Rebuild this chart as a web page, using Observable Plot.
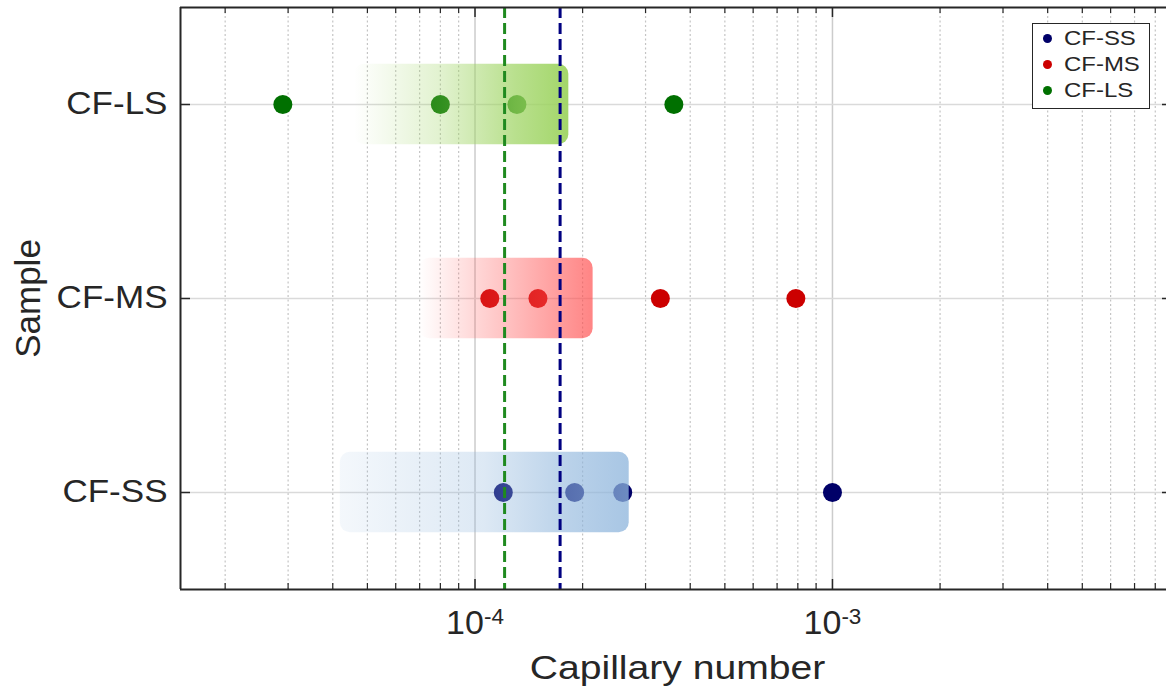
<!DOCTYPE html>
<html>
<head>
<meta charset="utf-8">
<script src="https://cdn.jsdelivr.net/npm/d3@7"></script>
<script src="https://cdn.jsdelivr.net/npm/@observablehq/plot@0.6"></script>
<style>
  body { margin: 0; background: #fff; }
  #wrap { position: relative; width: 1166px; height: 691px; overflow: hidden; font-family: "Liberation Sans", Arial, sans-serif; }
  #legend { position: absolute; left: 1032px; top: 23px; box-sizing: border-box; width: 118px; height: 86px;
            border: 1.5px solid #262626; background: #fff; padding-top: 1px; }
  #legend .row { height: 26px; display: flex; align-items: center; font-size: 21px; color: #262626; }
  #legend .dot { width: 9px; height: 9px; border-radius: 50%; margin-left: 10px; margin-right: 11.5px; flex: none; }
  #legend .lab { display: inline-block; transform: scaleX(1.14); transform-origin: left center; white-space: nowrap; }
</style>
</head>
<body>
<div id="wrap"></div>
<script>
// ---- data ----
const samples = ["CF-SS", "CF-MS", "CF-LS"];
const sampleColors = ["#000068", "#cc0000", "#007000"];
const ssValues = [1.20e-4, 1.90e-4, 2.59e-4, 1.00e-3];
const msValues = [1.10e-4, 1.50e-4, 3.30e-4, 7.90e-4];
const lsValues = [2.90e-5, 8.00e-5, 1.31e-4, 3.60e-4];
const boxLow = [4.2e-5, 7.0e-5, 4.6e-5];
const boxHigh = [2.70e-4, 2.14e-4, 1.83e-4];
const boxColors = ["#8eb5dc", "#ff5050", "#9ed462"];
const boxOpacityStops = [
  [[0, 0.1], [0.5, 0.3], [0.8, 0.62], [1, 0.77]],
  [[0, 0], [1, 0.7]],
  [[0, 0], [0.4, 0.3], [0.75, 0.72], [1, 0.95]]
];
const thresholdValues = [1.21e-4, 1.73e-4];
const thresholdColors = ["#1f8a1f", "#000080"];
const xTickValues = [1e-4, 1e-3];
const xTickLabels = ["10^-4", "10^-3"];
const minorMantissas = [2, 3, 4, 5, 6, 7, 8, 9];
const decadeStarts = [1e-5, 1e-4, 1e-3];
const xDomain = [1.5e-5, 8.6e-3];
const yDomain = [0.5, 3.5];
const xLabel = "Capillary number";
const yLabel = "Sample";

// ---- derived tables ----
const seriesValues = [ssValues, msValues, lsValues];
const points = samples.flatMap((s, i) => seriesValues[i].map(v => ({sample: s, pos: i + 1, value: v})));
const boxes = samples.map((s, i) => ({sample: s, pos: i + 1, low: boxLow[i], high: boxHigh[i]}));
const positions = samples.map((s, i) => i + 1);
const minorTicks = decadeStarts.flatMap(d => minorMantissas.map(m => +(m * d).toPrecision(6)))
  .filter(v => v >= xDomain[0] && v <= xDomain[1]);

const W = 1166, H = 691, mL = 180, mR = 0, mT = 7, mB = 102;
const plotW = W - mL - mR, plotH = H - mT - mB;
const ink = "#262626";

const chart = Plot.plot({
  width: W, height: H,
  marginLeft: mL, marginRight: mR, marginTop: mT, marginBottom: mB,
  x: {type: "log", domain: xDomain},
  y: {domain: yDomain},
  color: {domain: samples, range: sampleColors},
  style: {fontFamily: "'Liberation Sans', Arial, sans-serif", color: ink, background: "white"},
  marks: [
    // grid
    Plot.ruleX(minorTicks, {stroke: "#c4c4c4", strokeWidth: 1.2, strokeDasharray: "2,2.5"}),
    Plot.ruleX(xTickValues, {stroke: "#cccccc", strokeWidth: 1.5}),
    Plot.ruleY(positions, {stroke: "#dadada", strokeWidth: 1.5}),
    // points
    Plot.dot(points, {x: "value", y: "pos", r: 9.5, fill: "sample"}),
    // gradient boxes (over points)
    ...boxes.map((b, i) => Plot.rect([b], {
      x1: "low", x2: "high", y1: d => d.pos - 0.207, y2: d => d.pos + 0.207,
      fill: `url(#box-grad-${i})`, rx: 10
    })),
    // threshold lines
    ...thresholdValues.map((v, i) => Plot.ruleX([v], {stroke: thresholdColors[i], strokeWidth: 3, strokeDasharray: "11,5"})),
    // frame (left, top, bottom)
    Plot.ruleX([xDomain[0]], {stroke: ink, strokeWidth: 2}),
    Plot.ruleY(yDomain, {stroke: ink, strokeWidth: 2}),
    // inward ticks
    Plot.tickX(xTickValues, {stroke: ink, strokeWidth: 1.5, insetTop: plotH - 10}),
    Plot.tickX(minorTicks, {stroke: ink, strokeWidth: 1.2, insetTop: plotH - 6}),
    Plot.tickX(xTickValues, {stroke: ink, strokeWidth: 1.5, insetBottom: plotH - 10}),
    Plot.tickX(minorTicks, {stroke: ink, strokeWidth: 1.2, insetBottom: plotH - 6}),
    Plot.tickY(positions, {stroke: ink, strokeWidth: 1.5, insetRight: plotW - 10}),
    Plot.tickY(positions, {stroke: ink, strokeWidth: 1.5, insetLeft: plotW - 4}),
    // axes
    Plot.axisY({ticks: positions, tickFormat: d => samples[d - 1], tickSize: 0, tickPadding: 13, fontSize: 31, label: null}),
    Plot.axisX({ticks: xTickValues, tickFormat: d => xTickLabels[xTickValues.indexOf(d)], tickSize: 0, tickPadding: 20, fontSize: 34, label: null}),
    // axis titles
    Plot.text([xLabel], {frameAnchor: "bottom", dy: 79, dx: 4, lineAnchor: "middle", textAnchor: "middle", fontSize: 34, fill: ink}),
    Plot.text([yLabel], {frameAnchor: "left", dx: -152, rotate: -90, lineAnchor: "middle", textAnchor: "middle", fontSize: 35, fill: ink})
  ]
});

// gradient definitions
const svg = d3.select(chart);
const defs = svg.insert("defs", ":first-child");
boxColors.forEach((c, i) => {
  const g = defs.append("linearGradient").attr("id", `box-grad-${i}`)
    .attr("x1", 0).attr("x2", 1).attr("y1", 0).attr("y2", 0);
  boxOpacityStops[i].forEach(([o, a]) => g.append("stop").attr("offset", o).attr("stop-color", c).attr("stop-opacity", a));
});

document.getElementById("wrap").appendChild(chart);

// superscript exponents on x tick labels
svg.selectAll('g[aria-label="x-axis tick label"] text').each(function () {
  const el = d3.select(this);
  const [base, exp] = el.text().split("^");
  if (exp !== undefined) {
    el.text(base);
    el.append("tspan").attr("dy", "-0.45em").attr("font-size", "0.66em").text(exp);
  }
});
// slightly widened lettering like the reference
svg.selectAll('g[aria-label="y-axis tick label"] text').each(function () {
  const w = this.getComputedTextLength();
  d3.select(this).attr("textLength", w * 1.13).attr("lengthAdjust", "spacingAndGlyphs");
});
svg.selectAll('g[aria-label="text"] text').each(function () {
  if (d3.select(this).text() === xLabel) {
    const w = this.getComputedTextLength();
    d3.select(this).attr("textLength", w * 1.15).attr("lengthAdjust", "spacingAndGlyphs");
  }
});

// legend
const legend = d3.select("#wrap").append("div").attr("id", "legend");
samples.forEach((s, i) => {
  const row = legend.append("div").attr("class", "row");
  row.append("span").attr("class", "dot").style("background", sampleColors[i]);
  row.append("span").attr("class", "lab").text(s);
});
</script>
</body>
</html>
